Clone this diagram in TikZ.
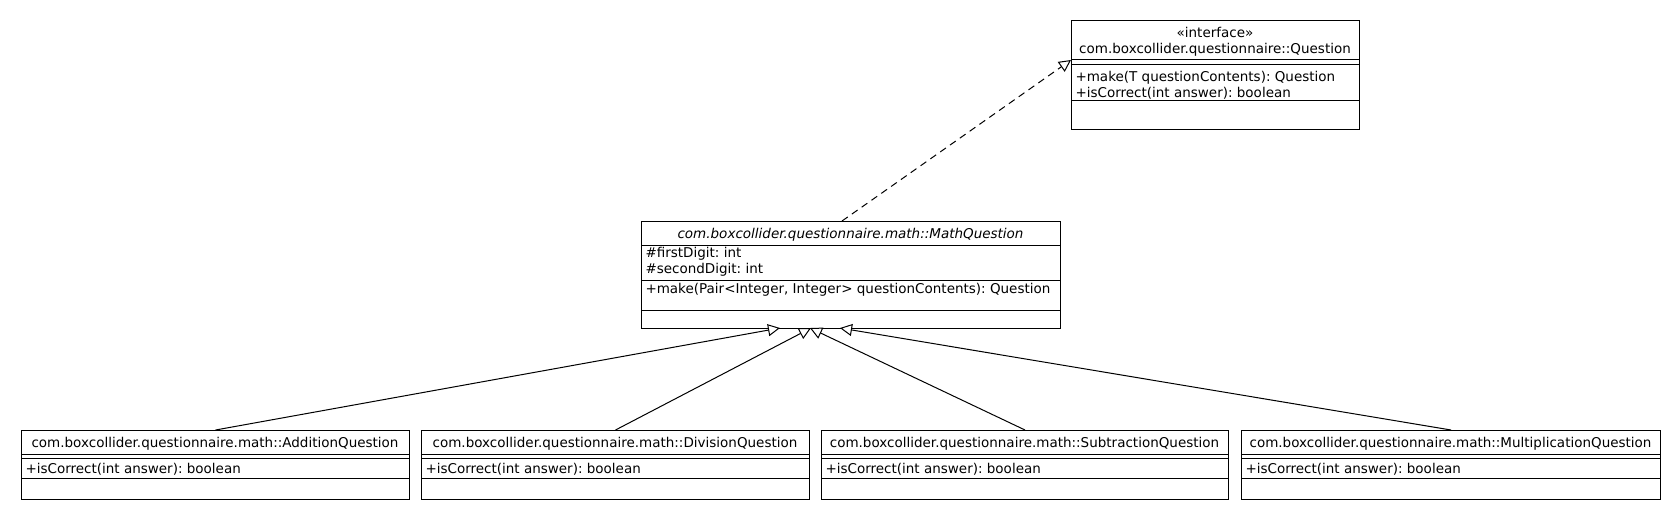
\documentclass[tikz,border=0pt]{standalone}
\usepackage{fontspec}
\setmainfont{DejaVu Sans}
\usetikzlibrary{arrows.meta,calc}
\frenchspacing

\begin{document}
\begin{tikzpicture}
  [x=1pt,y=-1pt,line width=1pt,
   clsbox/.style 2 args={draw,rectangle,inner sep=0pt,anchor=north west,minimum width=#1,minimum height=#2},
   ctitle/.style={anchor=base,inner sep=0pt,font=\fontsize{13.5}{16}\selectfont},
   member/.style={anchor=base west,inner sep=0pt,font=\fontsize{13.5}{16}\selectfont},
   inherit/.style={-{Triangle[open,length=12pt,width=12pt,fill=white]}},
   realize/.style={dash pattern=on 7pt off 5pt,-{Triangle[open,length=12pt,width=12pt,fill=white]}}]

  \useasboundingbox (0,0) rectangle (1680,520);

  % interface
  \node[clsbox={288pt}{109pt}] (q) at (1071,20) {};
  \node[ctitle] (qst) at (1215,37.5) {«interface»};
  \node[ctitle] (qnm) at (1215,53.5) {com.boxcollider.questionnaire::Question};
  \node[member] (qm1) at (1075,81.5) {+make(T questionContents): Question};
  \node[member] (qm2) at (1075,97.5) {+isCorrect(int answer): boolean};
  \foreach \y in {59,64,100}
    \draw (q.west |- 0,\y) -- (q.east |- 0,\y);

  % abstract class
  \node[clsbox={419pt}{107pt}] (mq) at (641,221) {};
  \node[ctitle] (mqnm) at (850.5,238) {\itshape com.boxcollider.questionnaire.math::MathQuestion};
  \node[member] (mqa1) at (645,257.5) {\#firstDigit: int};
  \node[member] (mqa2) at (645,273) {\#secondDigit: int};
  \node[member] (mqm1) at (645,293) {+make(Pair<Integer, Integer> questionContents): Question};
  \foreach \y in {245,280,310}
    \draw (mq.west |- 0,\y) -- (mq.east |- 0,\y);

  % concrete classes
  \foreach \n/\x/\w/\t in {add/21/388/AdditionQuestion,div/421/388/DivisionQuestion,
                           sub/821/407/SubtractionQuestion,mul/1241/419/MultiplicationQuestion}
  {
    \node[clsbox={\w pt}{69pt}] (\n) at (\x,430) {};
    \node[ctitle] (\n nm) at (\x+\w/2,447) {com.boxcollider.questionnaire.math::\t};
    \node[member] (\n m1) at (\x+4,473) {+isCorrect(int answer): boolean};
    \foreach \y in {454,458,478}
      \draw (\n.west |- 0,\y) -- (\n.east |- 0,\y);
  }

  \coordinate (qtip) at (q.west |- 0,60);
  \coordinate (mq1) at (780,328);
  \coordinate (mq2) at (811,328);
  \coordinate (mq3) at (810,328);
  \coordinate (mq4) at (840,328);

  \draw[realize] (mq.north -| 842,0) -- (qtip);
  \foreach \from/\to in {add/mq1,div/mq2,sub/mq3,mul/mq4}
    \draw[inherit] (\from.north) -- (\to);
\end{tikzpicture}
\end{document}
